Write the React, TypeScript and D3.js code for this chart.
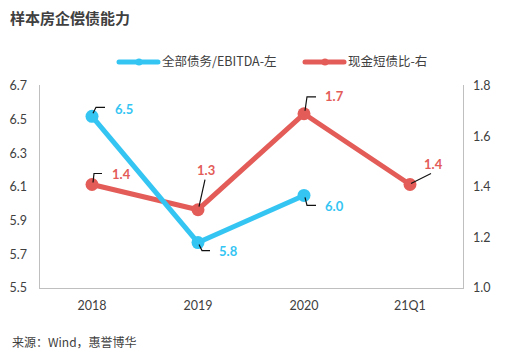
import React, { useRef, useEffect } from 'react';
import * as d3 from 'd3';

const categories = ['2018', '2019', '2020', '21Q1'];
const debtEbitda = [6.52, 5.77, 6.05, null];
const cashShortDebt = [1.41, 1.31, 1.69, 1.41];
const debtLabels = ['6.5', '5.8', '6.0', null];
const cashLabels = ['1.4', '1.3', '1.7', '1.4'];
const leftTicks = [5.5, 5.7, 5.9, 6.1, 6.3, 6.5, 6.7];
const rightTicks = [1.0, 1.2, 1.4, 1.6, 1.8];

const BLUE = '#35c5f3';
const RED = '#e35c58';
const NUM_FONT = 'Lato, "Noto Sans CJK SC", sans-serif';
const CJK_FONT = '"Noto Sans CJK SC", "Microsoft YaHei", sans-serif';

// leader line offsets [dx1,dy1, dx2,dy2] from the point, label anchor offset [dx,dy]
const debtLeaders: any[] = [
  { path: [[1, -3], [4, -9], [13, -9]], label: [23, -7] },
  { path: [[1, 2], [4, 8], [12, 8]], label: [21, 9] },
  { path: [[1, 2], [3, 10], [12, 10]], label: [21, 11] },
];
const cashLeaders: any[] = [
  { path: [[1, -2], [2, -11], [10, -11]], label: [20, -10] },
  { path: [[1, -3], [7, -30]], label: [-1, -39] },
  { path: [[1, -3], [3, -17], [12, -17]], label: [21, -17] },
  { path: [[1, -1], [21, -11]], label: [14, -20] },
];

const ComboChart = () => {
  const ref = useRef<SVGSVGElement>(null);

  useEffect(() => {
    const svg = d3.select(ref.current);
    svg.selectAll('*').remove();

    const left = 39, right = 463, top = 86, bottom = 288;

    const x = d3.scaleBand().domain(categories).range([left, right]);
    const cx = (c: string) => (x(c) as number) + x.bandwidth() / 2;
    const yL = d3.scaleLinear().domain([5.5, 6.7]).range([bottom, top]);
    const yR = d3.scaleLinear().domain([1.0, 1.8]).range([bottom, top]);

    // title
    svg.append('text')
      .attr('x', 10).attr('y', 24)
      .attr('font-family', CJK_FONT).attr('font-size', 15).attr('font-weight', 'bold')
      .attr('fill', '#404040')
      .text('样本房企偿债能力');

    // legend
    const legend = [
      { x: 119, color: BLUE, text: '全部债务/EBITDA-左' },
      { x: 305, color: RED, text: '现金短债比-右' },
    ];
    legend.forEach(l => {
      svg.append('line')
        .attr('x1', l.x).attr('x2', l.x + 39).attr('y1', 62).attr('y2', 62)
        .attr('stroke', l.color).attr('stroke-width', 5).attr('stroke-linecap', 'round');
      svg.append('circle').attr('cx', l.x + 20).attr('cy', 62).attr('r', 3.5).attr('fill', l.color);
      svg.append('text')
        .attr('x', l.x + 43).attr('y', 62).attr('dy', '0.35em')
        .attr('font-family', CJK_FONT).attr('font-size', 12.5).attr('fill', '#404040')
        .text(l.text);
    });

    // axes frame
    const frame = svg.append('g').attr('stroke', '#bfbfbf').attr('stroke-width', 1);
    frame.append('line').attr('x1', left + 0.5).attr('x2', left + 0.5).attr('y1', top - 1).attr('y2', bottom + 0.5);
    frame.append('line').attr('x1', right + 0.5).attr('x2', right + 0.5).attr('y1', top - 1).attr('y2', bottom + 0.5);
    frame.append('line').attr('x1', left).attr('x2', right + 1).attr('y1', bottom + 0.5).attr('y2', bottom + 0.5);

    const tickStyle = (s: any) => s.attr('font-family', NUM_FONT).attr('font-size', 12.5).attr('fill', '#404040');

    leftTicks.forEach(t => {
      svg.append('text').call(tickStyle)
        .attr('x', 27).attr('y', yL(t)).attr('dy', '0.35em').attr('text-anchor', 'end')
        .text(d3.format('.1f')(t));
    });
    rightTicks.forEach(t => {
      svg.append('text').call(tickStyle)
        .attr('x', 473).attr('y', yR(t)).attr('dy', '0.35em')
        .text(d3.format('.1f')(t));
    });
    categories.forEach(c => {
      svg.append('text').call(tickStyle)
        .attr('x', cx(c)).attr('y', 306).attr('dy', '0.35em').attr('text-anchor', 'middle')
        .text(c);
    });

    const drawSeries = (vals: (number | null)[], y: any, color: string, labels: (string | null)[], leaders: any[]) => {
      const pts = categories.map((c, i) => ({ c, v: vals[i], i })).filter(d => d.v != null) as any[];
      const line = d3.line<any>().x(d => cx(d.c)).y(d => y(d.v));
      svg.append('path').datum(pts)
        .attr('fill', 'none').attr('stroke', color).attr('stroke-width', 5)
        .attr('stroke-linejoin', 'round').attr('d', line);
      pts.forEach(d => {
        svg.append('circle').attr('cx', cx(d.c)).attr('cy', y(d.v)).attr('r', 6.5).attr('fill', color);
      });
      pts.forEach(d => {
        const px = cx(d.c), py = y(d.v);
        const ld = leaders[d.i];
        const p = ld.path.map((o: number[]) => [px + o[0], py + o[1]]);
        svg.append('path')
          .attr('d', d3.line()(p))
          .attr('fill', 'none').attr('stroke', '#111').attr('stroke-width', 1.2);
        svg.append('text')
          .attr('x', px + ld.label[0]).attr('y', py + ld.label[1]).attr('dy', '0.35em')
          .attr('text-anchor', 'start')
          .attr('font-family', NUM_FONT).attr('font-size', 13).attr('font-weight', 'bold')
          .attr('fill', color)
          .text(labels[d.i] as string);
      });
    };

    drawSeries(cashShortDebt, yR, RED, cashLabels, cashLeaders);
    drawSeries(debtEbitda, yL, BLUE, debtLabels, debtLeaders);

    // source
    svg.append('text')
      .attr('x', 12).attr('y', 343).attr('dy', '0.35em')
      .attr('font-family', CJK_FONT).attr('font-size', 12).attr('fill', '#404040')
      .text('来源：Wind，惠誉博华');
  }, []);

  return <svg ref={ref} width={506} height={361} style={{ display: 'block' }} />;
};

export default function App() {
  return (
    <div style={{ position: 'absolute', left: 0, top: 0, background: '#fff' }}>
      <ComboChart />
    </div>
  );
}
